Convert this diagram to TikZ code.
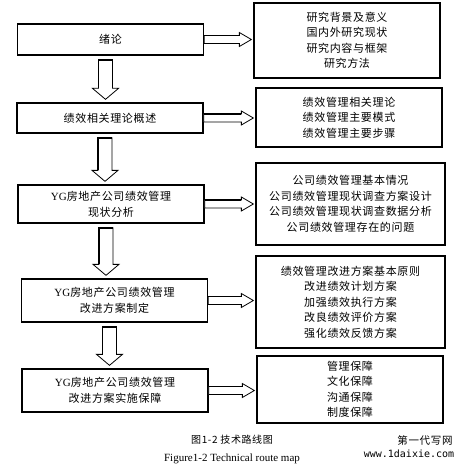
\documentclass[tikz,border=0pt]{standalone}
\usepackage{fontspec}
\setmainfont{Liberation Serif}
\newfontfamily\cjk[LetterSpace=6]{Noto Sans CJK SC}
\newfontfamily\wmfont{DejaVu Sans Mono}
\usepackage{tikz}
\usetikzlibrary{calc}
\tikzstyle{leftbox} = [draw, rectangle, line width=1.3pt, minimum width=186pt, inner sep=0pt, align=center, font=\fontsize{11}{16}\selectfont]
\tikzstyle{rightbox} = [draw, rectangle, line width=1.3pt, minimum width=186pt, inner sep=0pt, align=center, font=\fontsize{11}{15.5}\selectfont\cjk]
\tikzstyle{hollow} = [draw, fill=white, line width=0.8pt, line join=miter]
\tikzstyle{shade} = [draw, line width=1.8pt]

% hollow block arrows between two nodes
\newcommand{\downblock}[2]{%
  \draw[hollow] let \p1=(#1.south), \p2=(#2.north) in
    (\x1-12,\y1-4) -- (\x1+2,\y1-4) -- (\x1+2,\y2+14) -- (\x1+8,\y2+14)
    -- (\x1-5,\y2+3) -- (\x1-18,\y2+14) -- (\x1-12,\y2+14) -- cycle;
  \draw[shade] let \p1=(#1.south), \p2=(#2.north) in
    (\x1-12,\y2+14) -- (\x1-12,\y1-4) -- (\x1+2,\y1-4);}
\newcommand{\rightblock}[2]{%
  \draw[hollow] let \p1=(#1.east), \p2=(#2.west) in
    (\x1,\y1+4) -- (\x2-14,\y1+4) -- (\x2-14,\y1+7) -- (\x2-2,\y1)
    -- (\x2-14,\y1-7) -- (\x2-14,\y1-4) -- (\x1,\y1-4) -- cycle;
  \draw[shade] let \p1=(#1.east), \p2=(#2.west) in
    (\x1,\y1+4) -- (\x2-14,\y1+4);}

\begin{document}
\begin{tikzpicture}[x=1pt, y=1pt]
    \useasboundingbox (0,0) rectangle (466,-468);
    % Left column
    \node [leftbox, minimum height=31pt] (intro) at (110.5,-39.5) {\cjk 绪论};
    \node [leftbox, minimum height=30pt] (theory) at (110,-118) {\cjk 绩效相关理论概述};
    \node [leftbox, minimum height=38pt] (status) at (111,-204)
        {YG{\cjk 房地产公司绩效管理}\\{\cjk 现状分析}};
    \node [leftbox, minimum height=43pt] (plan) at (114.5,-300.5)
        {YG{\cjk 房地产公司绩效管理}\\{\cjk 改进方案制定}};
    \node [leftbox, minimum height=43pt] (support) at (115,-390.5)
        {YG{\cjk 房地产公司绩效管理}\\{\cjk 改进方案实施保障}};

    % Right column
    \node [rightbox, minimum height=75pt] (introR) at (347,-40.5)
        {研究背景及意义\\国内外研究现状\\研究内容与框架\\研究方法};
    \node [rightbox, minimum height=59pt] (theoryR) at (349,-117.5)
        {绩效管理相关理论\\绩效管理主要模式\\绩效管理主要步骤};
    \node [rightbox, minimum width=189pt, minimum height=82pt] (statusR) at (350.5,-204)
        {公司绩效管理基本情况\\公司绩效管理现状调查方案设计\\公司绩效管理现状调查数据分析\\公司绩效管理存在的问题};
    \node [rightbox, minimum width=189pt, minimum height=92pt] (planR) at (350.5,-302)
        {绩效管理改进方案基本原则\\改进绩效计划方案\\加强绩效执行方案\\改良绩效评价方案\\强化绩效反馈方案};
    \node [rightbox, minimum height=67pt] (supportR) at (350,-389.5)
        {管理保障\\文化保障\\沟通保障\\制度保障};

    % Connectors
    \downblock{intro}{theory}
    \downblock{theory}{status}
    \downblock{status}{plan}
    \downblock{plan}{support}
    \rightblock{intro}{introR}
    \rightblock{theory}{theoryR}
    \rightblock{status}{statusR}
    \rightblock{plan}{planR}
    \rightblock{support}{supportR}

    % Caption
    \node [font=\fontsize{10}{12}\selectfont\cjk] (cap) at (232,-440) {图1-2 技术路线图};
    \node [font=\fontsize{11}{12}\selectfont] (capen) at (232,-459) {Figure1-2 Technical route map};
    \node [font=\fontsize{10.5}{12}\selectfont\cjk] (wm) at (425,-440) {第一代写网};
    \node [font=\wmfont\fontsize{10}{12}\selectfont] (wmurl) at (409,-454) {www.1daixie.com};
\end{tikzpicture}
\end{document}
